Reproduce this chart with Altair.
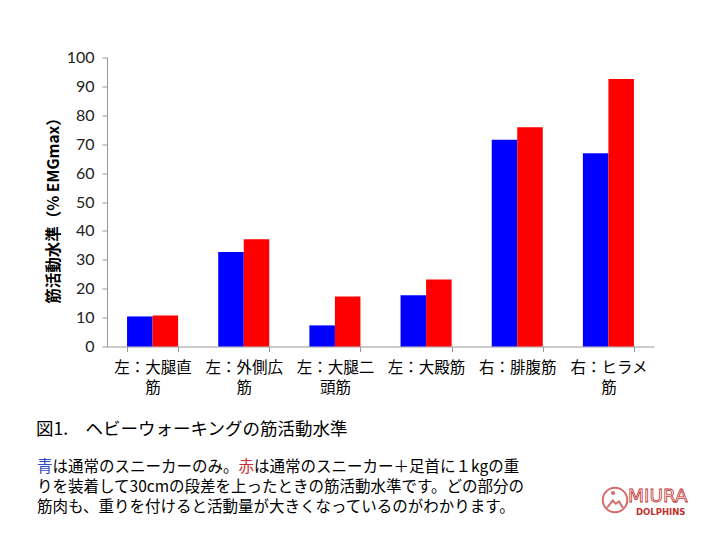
import altair as alt
import pandas as pd

categories = ["左：大腿直筋", "左：外側広筋", "左：大腿二頭筋", "左：大殿筋", "右：腓腹筋", "右：ヒラメ筋"]
blue_values = [10.4, 32.7, 7.3, 17.7, 71.5, 66.9]
red_values = [10.7, 37.1, 17.3, 23.2, 75.9, 92.6]
series_names = ["通常のスニーカー", "スニーカー＋重り"]
y_ticks = list(range(0, 101, 10))

caption = "図1.　ヘビーウォーキングの筋活動水準"
para1 = ["青", "は通常のスニーカーのみ。", "赤", "は通常のスニーカー＋足首に１kgの重"]
para2 = "りを装着して30cmの段差を上ったときの筋活動水準です。どの部分の"
para3 = "筋肉も、重りを付けると活動量が大きくなっているのがわかります。"

rows = []
for c, b, r in zip(categories, blue_values, red_values):
    rows.append({"muscle": c, "series": series_names[0], "value": b})
    rows.append({"muscle": c, "series": series_names[1], "value": r})
df = pd.DataFrame(rows)

JP = "Noto Sans CJK JP"
W, H = 547, 289
OX, OY = 107, 57.5  # plot origin on page

bars = alt.Chart(df).mark_bar().encode(
    x=alt.X("muscle:N", sort=categories,
            scale=alt.Scale(paddingInner=0.44, paddingOuter=0.22),
            axis=alt.Axis(title=None, labelAngle=0, labelFont=JP, labelFontSize=15.5,
                          labelColor="black", labelPadding=9, labelLineHeight=20,
                          labelBaseline="top", tickBand="extent", tickSize=5,
                          tickColor="#999", domainColor="#999",
                          labelExpr="length(datum.label) > 5 ? [substring(datum.label, 0, 5), substring(datum.label, 5)] : datum.label")),
    xOffset=alt.XOffset("series:N", sort=series_names,
                        scale=alt.Scale(paddingInner=0, paddingOuter=0)),
    y=alt.Y("value:Q", scale=alt.Scale(domain=[0, 100], nice=False),
            axis=alt.Axis(title="筋活動水準（% EMGmax）", values=y_ticks, grid=False,
                          labelFont="Lato", labelFontSize=16, labelColor="#222",
                          labelPadding=8, tickSize=5, tickColor="#999", domainColor="#999",
                          titleFont=JP, titleFontSize=15.5, titleFontWeight="bold",
                          titleColor="black", titleX=-54, titleY=149,
                          titleBaseline="middle", titleAlign="center", titleAngle=270)),
    color=alt.Color("series:N", sort=series_names,
                    scale=alt.Scale(domain=series_names, range=["#0000ff", "#ff0000"]),
                    legend=None),
)

def txt(text, x, y, size=15, color="black", weight="normal", font=JP, baseline="middle"):
    return alt.Chart(pd.DataFrame({"t": [text]})).mark_text(
        align="left", baseline=baseline, font=font, fontSize=size,
        color=color, fontWeight=weight
    ).encode(text="t:N", x=alt.value(x - OX), y=alt.value(y - OY))

S = 15.5
x0 = 37
layers = [bars,
          txt(caption, 36, 430, size=17.5),
          txt(para1[0], x0, 467, size=S, color="#3048c8"),
          txt(para1[1], x0 + S, 467, size=S),
          txt(para1[2], x0 + 13 * S, 467, size=S, color="#c83030"),
          txt(para1[3], x0 + 14 * S, 467, size=S),
          txt(para2, x0, 487, size=S),
          txt(para3, x0, 507, size=S),
          txt("DOLPHINS", 636, 515, size=8.5, color="#c0302e", weight="bold",
              font="DejaVu Sans", baseline="alphabetic"),
          ]

miura = alt.Chart(pd.DataFrame({"t": ["MIURA"]})).mark_text(
    align="left", baseline="alphabetic", font="DejaVu Sans", fontSize=18.5,
    stroke="#c0302e", strokeWidth=0.8, fill="white"
).encode(text="t:N", x=alt.value(628 - OX), y=alt.value(502 - OY))

logo_ring = alt.Chart(pd.DataFrame({"k": [0]})).mark_point(
    shape="circle", size=600, filled=False, color="#c0302e", strokeWidth=2
).encode(x=alt.value(615 - OX), y=alt.value(500 - OY))
logo_dot = alt.Chart(pd.DataFrame({"k": [0]})).mark_point(
    shape="circle", size=18, filled=True, color="#c0302e"
).encode(x=alt.value(613 - OX), y=alt.value(493 - OY))
logo_mtn = alt.Chart(pd.DataFrame({"k": [0]})).mark_point(
    shape="M-1,0.6L-0.3,-0.3L0.1,0.1L0.5,-0.2L1,0.6", size=250, filled=False,
    color="#c0302e", strokeWidth=2
).encode(x=alt.value(615 - OX), y=alt.value(503 - OY))

chart = alt.layer(*layers, miura, logo_ring, logo_dot, logo_mtn).properties(
    width=W, height=H,
    background="white",
    autosize=alt.AutoSizeParams(type="none"),
    padding={"left": OX - 8, "top": OY - 8, "right": 720 - 16 - (OX - 8) - W, "bottom": 540 - 16 - (OY - 8) - H},
).configure_view(stroke=None)

chart.save("out.html", embed_options={"renderer": "svg", "actions": False})
